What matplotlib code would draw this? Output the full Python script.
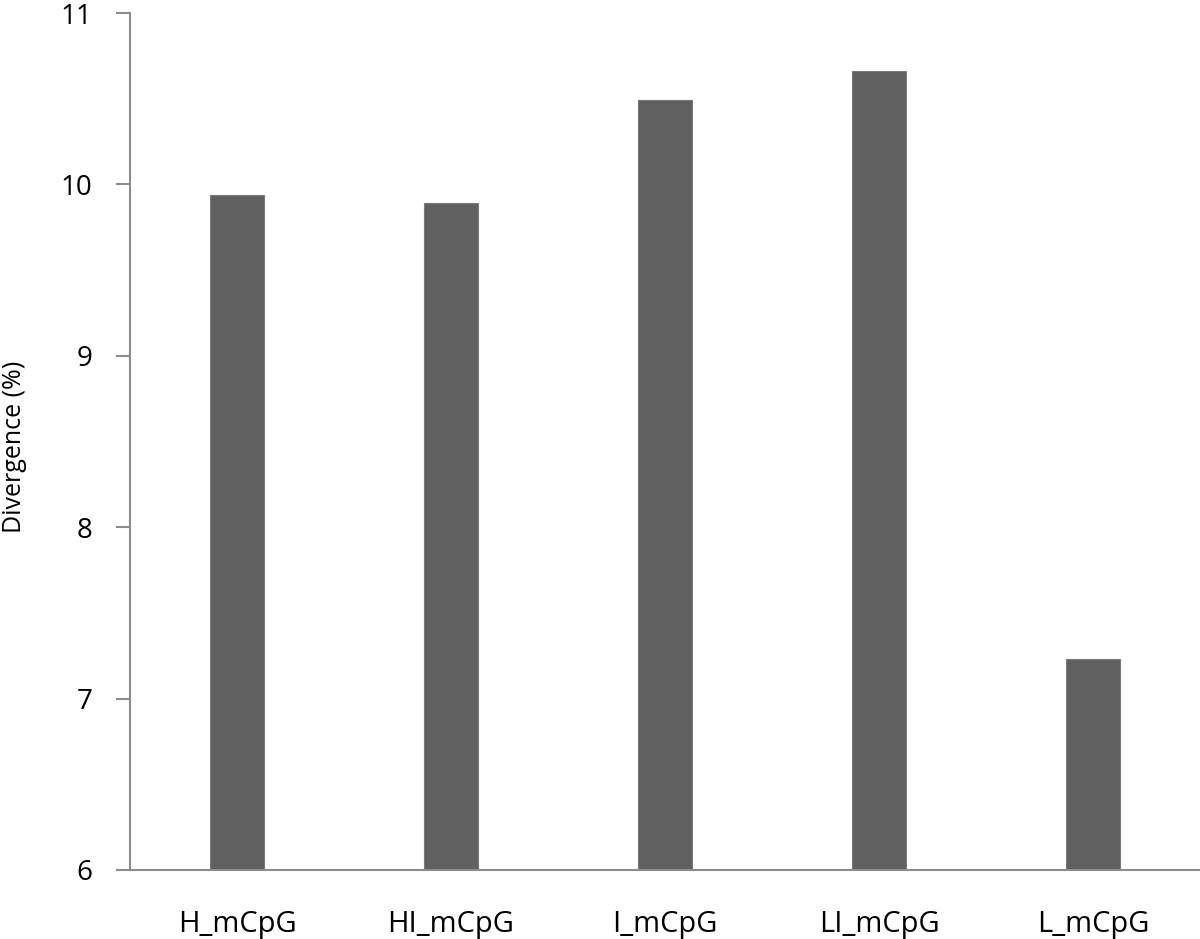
import matplotlib
matplotlib.use("Agg")
import matplotlib.pyplot as plt

categories = ["H_mCpG", "HI_mCpG", "I_mCpG", "LI_mCpG", "L_mCpG"]
divergence = [9.94, 9.89, 10.49, 10.66, 7.23]
yticks = [6, 7, 8, 9, 10, 11]

plt.rcParams['font.family'] = ['Open Sans', 'DejaVu Sans']
axis_grey = '#8c8c8c'

fig = plt.figure(figsize=(12, 9.39), dpi=100)
ax = fig.add_axes([130 / 1200, 1 - 870 / 939, 1070 / 1200, 857 / 939])

x = range(len(categories))
ax.bar(x, divergence, width=0.25, bottom=0, color='#606060',
       edgecolor='#7a7a7a', linewidth=0.8, zorder=2)

ax.set_xlim(-0.5, 4.5)
ax.set_ylim(6, 11)
ax.set_yticks(yticks)
ax.set_xticks(list(x))
ax.set_xticklabels(categories, fontsize=21)
ax.tick_params(axis='y', labelsize=20, length=10, width=1.5, color=axis_grey, pad=17)
ax.tick_params(axis='x', length=0, pad=29)
ax.set_ylabel("Divergence (%)", fontsize=18)
ax.yaxis.set_label_coords(-0.096, 0.494)

for side in ['top', 'right']:
    ax.spines[side].set_visible(False)
for side in ['left', 'bottom']:
    ax.spines[side].set_color(axis_grey)
    ax.spines[side].set_linewidth(1.5)

fig.savefig("out.png", dpi=100)
